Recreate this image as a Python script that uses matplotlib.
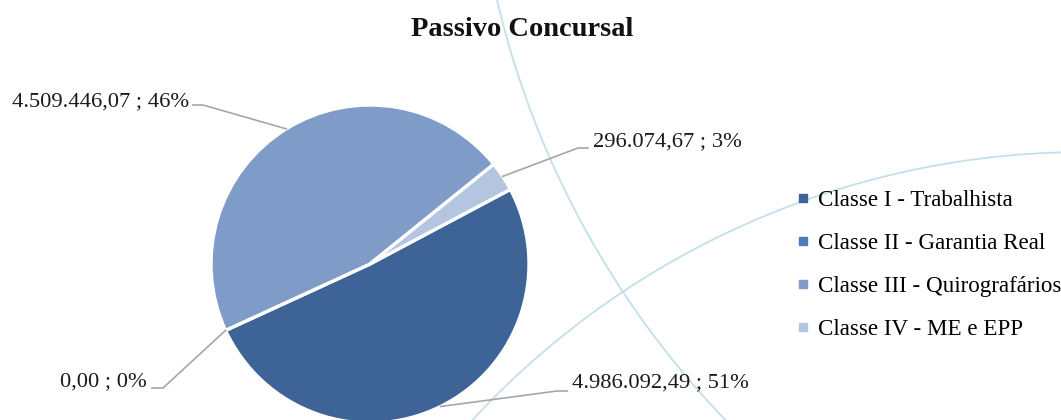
import numpy as np
import matplotlib
matplotlib.use("Agg")
import matplotlib.pyplot as plt
from matplotlib.lines import Line2D
from matplotlib.patches import Circle

plt.rcParams['font.family'] = ['Liberation Serif', 'DejaVu Serif']

categories = ['Classe I - Trabalhista', 'Classe II - Garantia Real',
              'Classe III - Quirografários', 'Classe IV - ME e EPP']
values = [4986092.49, 0.00, 4509446.07, 296074.67]
colors = ['#3E6497', '#4A7EBB', '#7F9CC8', '#B4C5E2']

# label layout in pixels (y measured from top): elbow, line end, text anchor, ha
label_layout = [
    ((557, 391), (567, 391), (572, 383), 'left'),
    ((163, 388), (152, 388), (147, 382), 'right'),
    ((203, 105), (193, 105), (189, 102), 'right'),
    ((578, 148), (588, 148), (593, 142), 'left'),
]

W, H = 1061, 420
fig = plt.figure(figsize=(W / 100, H / 100), dpi=100)
ax = fig.add_axes([0, 0, 1, 1])
ax.set_xlim(0, W)
ax.set_ylim(0, H)
ax.axis('off')

# decorative background arcs
for cx, cy, r in [(1378, H + 207, 905), (1085, H - 986, 834)]:
    ax.add_patch(Circle((cx, cy), r, fill=False, ec='#C3E0EA', lw=1.3, zorder=0))

cx, cy, rad = 370, H - 264, 159
wedges, _ = ax.pie(values, colors=colors, center=(cx, cy), radius=rad,
                   startangle=28, counterclock=False,
                   wedgeprops=dict(edgecolor='white', linewidth=2.4))
ax.set_xlim(0, W)
ax.set_ylim(0, H)
ax.set_aspect('auto')

total = sum(values)


def br(v):
    s = f"{v:,.2f}"
    return s.replace(',', 'X').replace('.', ',').replace('X', '.')


for w, v, (elb, end, tpos, ha) in zip(wedges, values, label_layout):
    mid = np.deg2rad((w.theta1 + w.theta2) / 2)
    sx, sy = cx + rad * np.cos(mid), cy + rad * np.sin(mid)
    ax.plot([sx, elb[0], end[0]], [sy, H - elb[1], H - end[1]],
            color='#A6A6A6', lw=1.2, zorder=3)
    ax.text(tpos[0], H - tpos[1], f"{br(v)} ; {v / total * 100:.0f}%",
            ha=ha, va='center', fontsize=16.2, color='#1a1a1a')

ax.text(522, H - 29, 'Passivo Concursal', ha='center', va='center',
        fontsize=20.5, fontweight='bold', color='#111111')

handles = [Line2D([], [], marker='s', ls='', color=c, markersize=6) for c in colors]
fig.legend(handles, categories, loc='upper left',
           bbox_to_anchor=(796 / W, 1 - 190 / H), frameon=False,
           fontsize=16.6, handlelength=0.6, handletextpad=0.35,
           labelspacing=0.95, borderpad=0, borderaxespad=0)

fig.savefig('out.png', dpi=100)
